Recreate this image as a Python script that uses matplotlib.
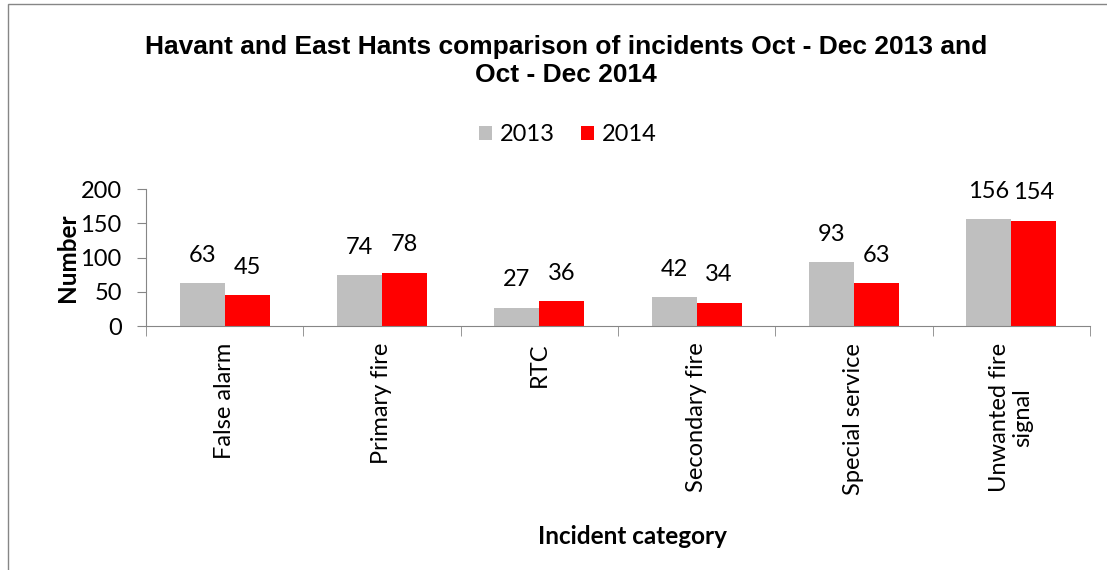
import numpy as np
import matplotlib
matplotlib.use("Agg")
import matplotlib.pyplot as plt
from matplotlib.patches import Rectangle

# data
categories = ['False alarm', 'Primary fire', 'RTC', 'Secondary fire',
              'Special service', 'Unwanted fire\nsignal']
vals_2013 = [63, 74, 27, 42, 93, 156]
vals_2014 = [45, 78, 36, 34, 63, 154]
years = ['2013', '2014']
colors = ['#bfbfbf', '#ff0000']

plt.rcParams['font.family'] = ['Lato', 'DejaVu Sans']
fs = 17

fig = plt.figure(figsize=(11.07, 5.70), dpi=100)
ax = fig.add_axes([0.1319, 0.428, 0.8527, 0.2404])

x = np.arange(len(categories))
w = 0.286
b1 = ax.bar(x - w / 2, vals_2013, w, color=colors[0], label=years[0])
b2 = ax.bar(x + w / 2, vals_2014, w, color=colors[1], label=years[1])

for bars, vals in ((b1, vals_2013), (b2, vals_2014)):
    for rect, v in zip(bars, vals):
        ax.annotate(str(v), (rect.get_x() + rect.get_width() / 2, v),
                    xytext=(0, 20), textcoords='offset points',
                    ha='center', va='center', fontsize=fs)

ax.set_xlim(-0.5, len(categories) - 0.5)
ax.set_ylim(0, 200)
ax.set_yticks([0, 50, 100, 150, 200])
ax.set_xticks(x)
ax.set_xticklabels(categories, rotation=90, fontsize=fs, va='top', ha='center',
                   linespacing=1.1)
ax.set_xticks(np.arange(-0.5, len(categories)), minor=True)
ax.tick_params(axis='x', which='major', length=0, pad=12)
ax.tick_params(axis='x', which='minor', length=7, color='#868686', direction='out')
ax.tick_params(axis='y', length=6.5, color='#868686', labelsize=fs, direction='out', pad=11)

for s in ('top', 'right'):
    ax.spines[s].set_visible(False)
for s in ('left', 'bottom'):
    ax.spines[s].set_color('#868686')

ax.set_ylabel('Number', fontsize=17.5, fontweight='bold', labelpad=1)
fig.text(0.571, 0.058, 'Incident category', ha='center', va='center',
         fontsize=17.5, fontweight='bold')

fig.text(0.511, 0.893, 'Havant and East Hants comparison of incidents Oct - Dec 2013 and\nOct - Dec 2014',
         ha='center', va='center', fontsize=19, fontweight='bold',
         family=['Liberation Sans', 'DejaVu Sans'], linespacing=1.22)

fig.legend(loc='center', bbox_to_anchor=(0.513, 0.764), ncol=2, frameon=False,
           fontsize=fs, handlelength=0.55, handleheight=0.55, handletextpad=0.35,
           columnspacing=1.1)

fig.patches.append(Rectangle((0.007, -0.01), 1.2, 1.003, transform=fig.transFigure,
                             fill=False, edgecolor='#868686', linewidth=1))

fig.savefig('out.png', dpi=100)
